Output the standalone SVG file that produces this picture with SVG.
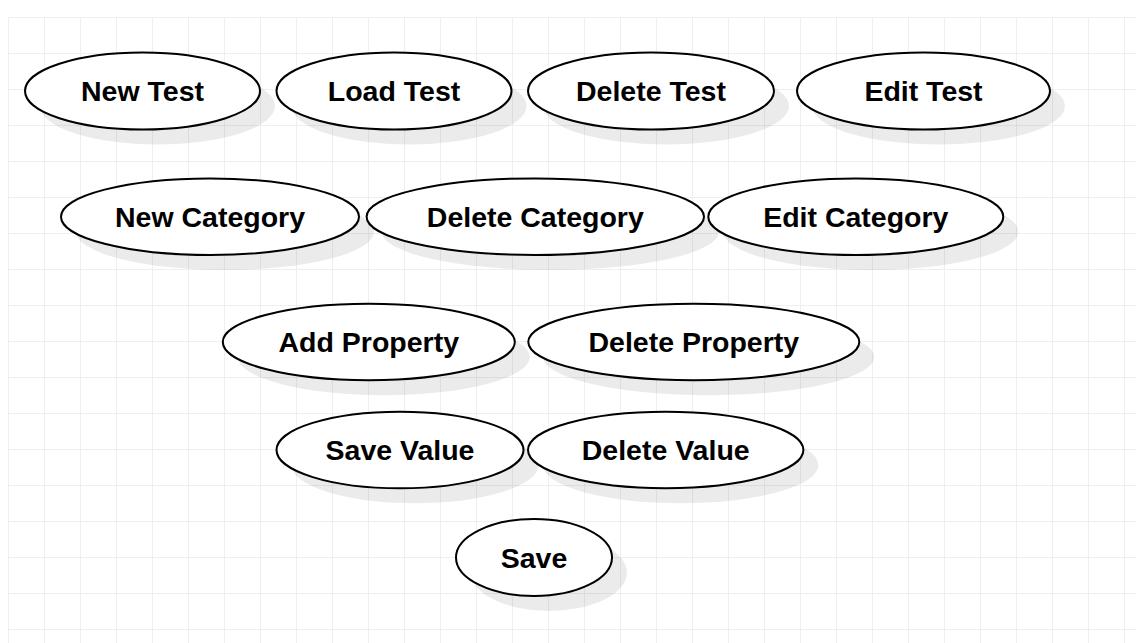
<svg xmlns="http://www.w3.org/2000/svg" width="1136" height="643" viewBox="0 0 1136 643">
<defs>
<pattern id="grid" x="8" y="17" width="36" height="36" patternUnits="userSpaceOnUse">
<path d="M0 0.5H36M0.5 0V36" fill="none" stroke="#efefef" stroke-width="1"/>
</pattern>
</defs>
<style>
.sh{fill:#000;fill-opacity:0.08;stroke:none}
.el{fill:#fff;stroke:#000;stroke-width:2}
.t{font-family:"Liberation Sans",Arial,sans-serif;font-weight:bold;font-size:28.5px;fill:#000;text-anchor:middle}
</style>
<rect width="1136" height="643" fill="#fff"/>
<rect x="8" y="17" width="1128" height="626" fill="url(#grid)"/>
<g id="connectors"/>
<g id="new-test"><ellipse class="sh" cx="157.5" cy="106" rx="117.5" ry="38.5"/><ellipse class="el" cx="142.5" cy="91" rx="117.5" ry="38.5"/><text class="t" x="142.5" y="101">New Test</text></g>
<g id="load-test"><ellipse class="sh" cx="409" cy="106" rx="117.5" ry="38.5"/><ellipse class="el" cx="394" cy="91" rx="117.5" ry="38.5"/><text class="t" x="394" y="101">Load Test</text></g>
<g id="delete-test"><ellipse class="sh" cx="666" cy="106" rx="123" ry="38.5"/><ellipse class="el" cx="651" cy="91" rx="123" ry="38.5"/><text class="t" x="651" y="101">Delete Test</text></g>
<g id="edit-test"><ellipse class="sh" cx="938.5" cy="106" rx="126.5" ry="38.5"/><ellipse class="el" cx="923.5" cy="91" rx="126.5" ry="38.5"/><text class="t" x="923.5" y="101">Edit Test</text></g>
<g id="new-category"><ellipse class="sh" cx="225" cy="231.7" rx="149" ry="38.3"/><ellipse class="el" cx="210" cy="216.7" rx="149" ry="38.3"/><text class="t" x="210" y="226.7">New Category</text></g>
<g id="delete-category"><ellipse class="sh" cx="550.3" cy="231.7" rx="168.7" ry="38.3"/><ellipse class="el" cx="535.3" cy="216.7" rx="168.7" ry="38.3"/><text class="t" x="535.3" y="226.7">Delete Category</text></g>
<g id="edit-category"><ellipse class="sh" cx="870.8" cy="231.7" rx="147.5" ry="38.3"/><ellipse class="el" cx="855.8" cy="216.7" rx="147.5" ry="38.3"/><text class="t" x="855.8" y="226.7">Edit Category</text></g>
<g id="add-property"><ellipse class="sh" cx="383.8" cy="357" rx="146" ry="38.2"/><ellipse class="el" cx="368.8" cy="342" rx="146" ry="38.2"/><text class="t" x="368.8" y="352">Add Property</text></g>
<g id="delete-property"><ellipse class="sh" cx="708.8" cy="357" rx="165.5" ry="38.2"/><ellipse class="el" cx="693.8" cy="342" rx="165.5" ry="38.2"/><text class="t" x="693.8" y="352">Delete Property</text></g>
<g id="save-value"><ellipse class="sh" cx="415" cy="465" rx="123.5" ry="38.3"/><ellipse class="el" cx="400" cy="450" rx="123.5" ry="38.3"/><text class="t" x="400" y="460">Save Value</text></g>
<g id="delete-value"><ellipse class="sh" cx="680.7" cy="465" rx="137.7" ry="38.3"/><ellipse class="el" cx="665.7" cy="450" rx="137.7" ry="38.3"/><text class="t" x="665.7" y="460">Delete Value</text></g>
<g id="save"><ellipse class="sh" cx="549" cy="572.5" rx="78" ry="38.5"/><ellipse class="el" cx="534" cy="557.5" rx="78" ry="38.5"/><text class="t" x="534" y="567.5">Save</text></g>
</svg>
